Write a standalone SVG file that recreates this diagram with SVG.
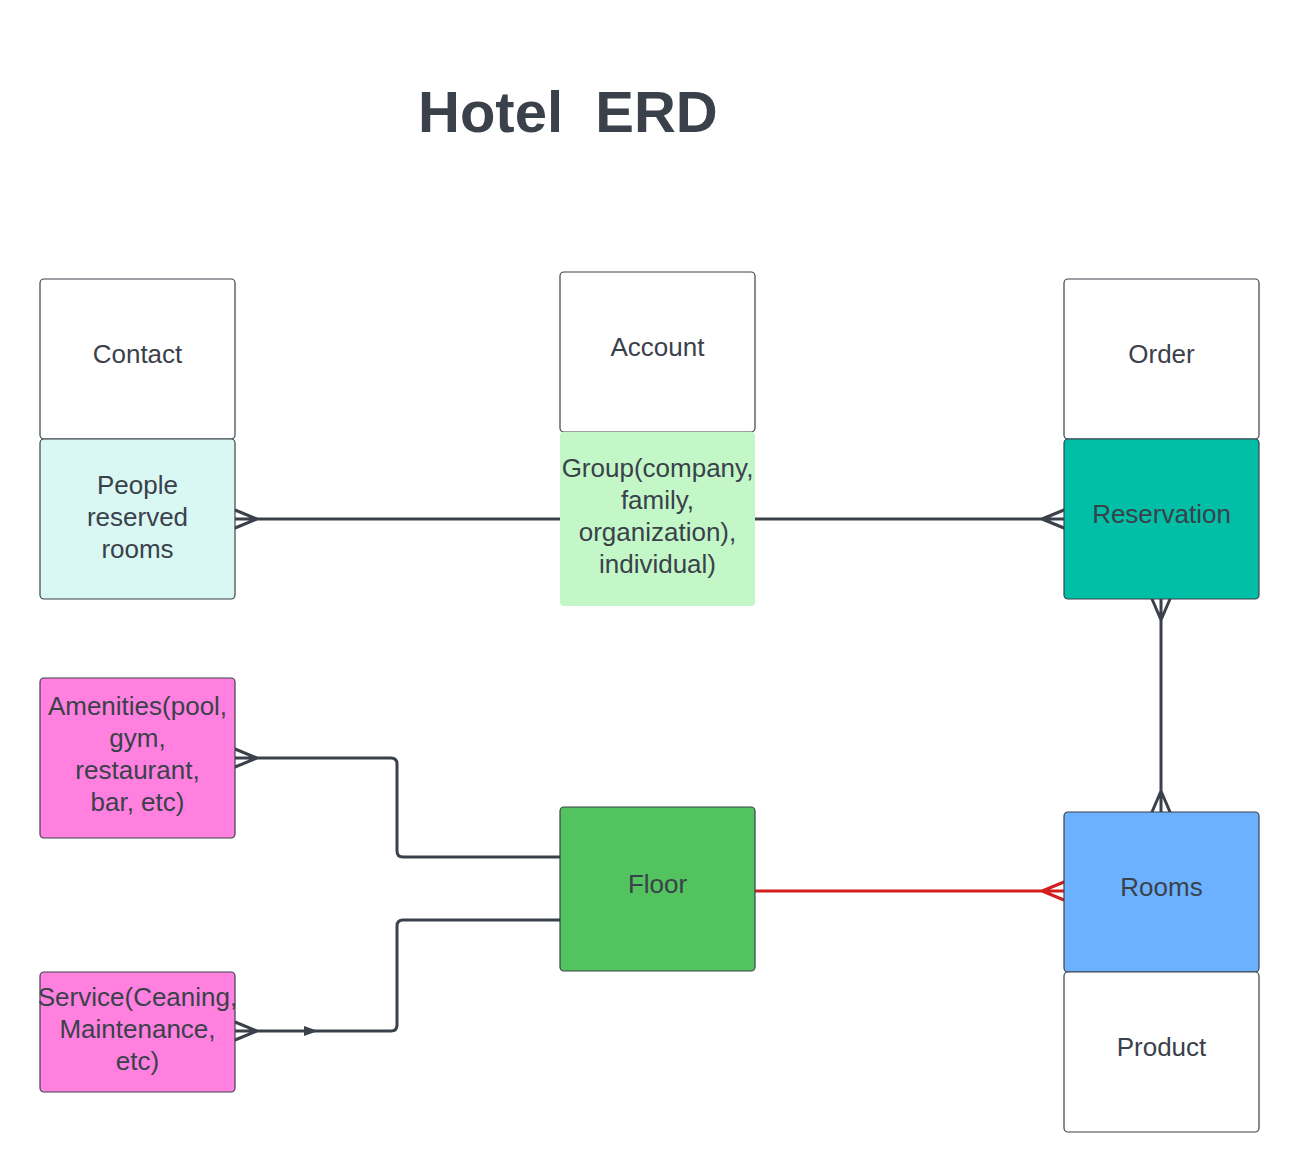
<svg xmlns="http://www.w3.org/2000/svg" width="1300" height="1172" viewBox="0 0 1300 1172">
<style>
.box{stroke:#3a414a;stroke-width:1.2}
.t{font-family:"Liberation Sans",Arial,sans-serif;font-size:26px;fill:#3a414a;text-anchor:middle}
.title{font-family:"Liberation Sans",Arial,sans-serif;font-size:58px;font-weight:bold;fill:#3a414a}
.c{fill:none;stroke:#3a414a;stroke-width:3;stroke-linejoin:round;stroke-linecap:round}
.r{fill:none;stroke:#d21e1e;stroke-width:3;stroke-linecap:round}
</style>
<rect width="1300" height="1172" fill="#ffffff"/>
<text class="title" x="418" y="132" xml:space="preserve">Hotel  ERD</text>

<g id="connectors">
  <path class="c" d="M235 519 H560 M235 510 L257 519 L235 528"/>
  <path class="c" d="M755 519 H1064 M1064 510 L1042 519 L1064 528"/>
  <path class="c" d="M1161 599 V812 M1152 599 L1161 620 L1170 599 M1152 812 L1161 791 L1170 812"/>
  <path class="r" d="M755 891 H1064 M1064 882 L1042 891 L1064 900"/>
  <path class="c" d="M235 758 H391 Q397 758 397 764 V851 Q397 857 403 857 H560 M235 749 L257 758 L235 767"/>
  <path class="c" d="M235 1031 H391 Q397 1031 397 1025 V926 Q397 920 403 920 H560 M235 1022 L257 1031 L235 1040"/>
  <path d="M304 1026 L318 1031 L304 1036 Z" fill="#3a414a"/>
</g>

<g id="contact"><rect class="box" x="40" y="279" width="195" height="160" rx="4" fill="#ffffff"/><text class="t" x="137.5" y="363">Contact</text></g>
<g id="people"><rect class="box" x="40" y="439" width="195" height="160" rx="4" fill="#d9f8f3"/><text class="t" x="137.5" y="494">People</text><text class="t" x="137.5" y="526">reserved</text><text class="t" x="137.5" y="558">rooms</text></g>
<g id="account"><rect class="box" x="560" y="272" width="195" height="160" rx="4" fill="#ffffff"/><text class="t" x="657.5" y="356">Account</text></g>
<g id="group"><rect x="560" y="432" width="195" height="174" rx="4" fill="#c3f7c8"/><text class="t" x="657.5" y="477">Group(company,</text><text class="t" x="657.5" y="509">family,</text><text class="t" x="657.5" y="541">organization),</text><text class="t" x="657.5" y="573">individual)</text></g>
<g id="order"><rect class="box" x="1064" y="279" width="195" height="160" rx="4" fill="#ffffff"/><text class="t" x="1161.5" y="363">Order</text></g>
<g id="reservation"><rect class="box" x="1064" y="439" width="195" height="160" rx="4" fill="#00bfa6" stroke="#2f6f66"/><text class="t" x="1161.5" y="523">Reservation</text></g>
<g id="amenities"><rect class="box" x="40" y="678" width="195" height="160" rx="4" fill="#ff80df"/><text class="t" x="137.5" y="715">Amenities(pool,</text><text class="t" x="137.5" y="747">gym,</text><text class="t" x="137.5" y="779">restaurant,</text><text class="t" x="137.5" y="811">bar, etc)</text></g>
<g id="service"><rect class="box" x="40" y="972" width="195" height="120" rx="4" fill="#ff80df"/><text class="t" x="137.5" y="1006">Service(Ceaning,</text><text class="t" x="137.5" y="1038">Maintenance,</text><text class="t" x="137.5" y="1070">etc)</text></g>
<g id="floor"><rect class="box" x="560" y="807" width="195" height="164" rx="4" fill="#53c35f"/><text class="t" x="657.5" y="893">Floor</text></g>
<g id="rooms"><rect class="box" x="1064" y="812" width="195" height="160" rx="4" fill="#6cb1ff"/><text class="t" x="1161.5" y="896">Rooms</text></g>
<g id="product"><rect class="box" x="1064" y="972" width="195" height="160" rx="4" fill="#ffffff"/><text class="t" x="1161.5" y="1056">Product</text></g>
</svg>
